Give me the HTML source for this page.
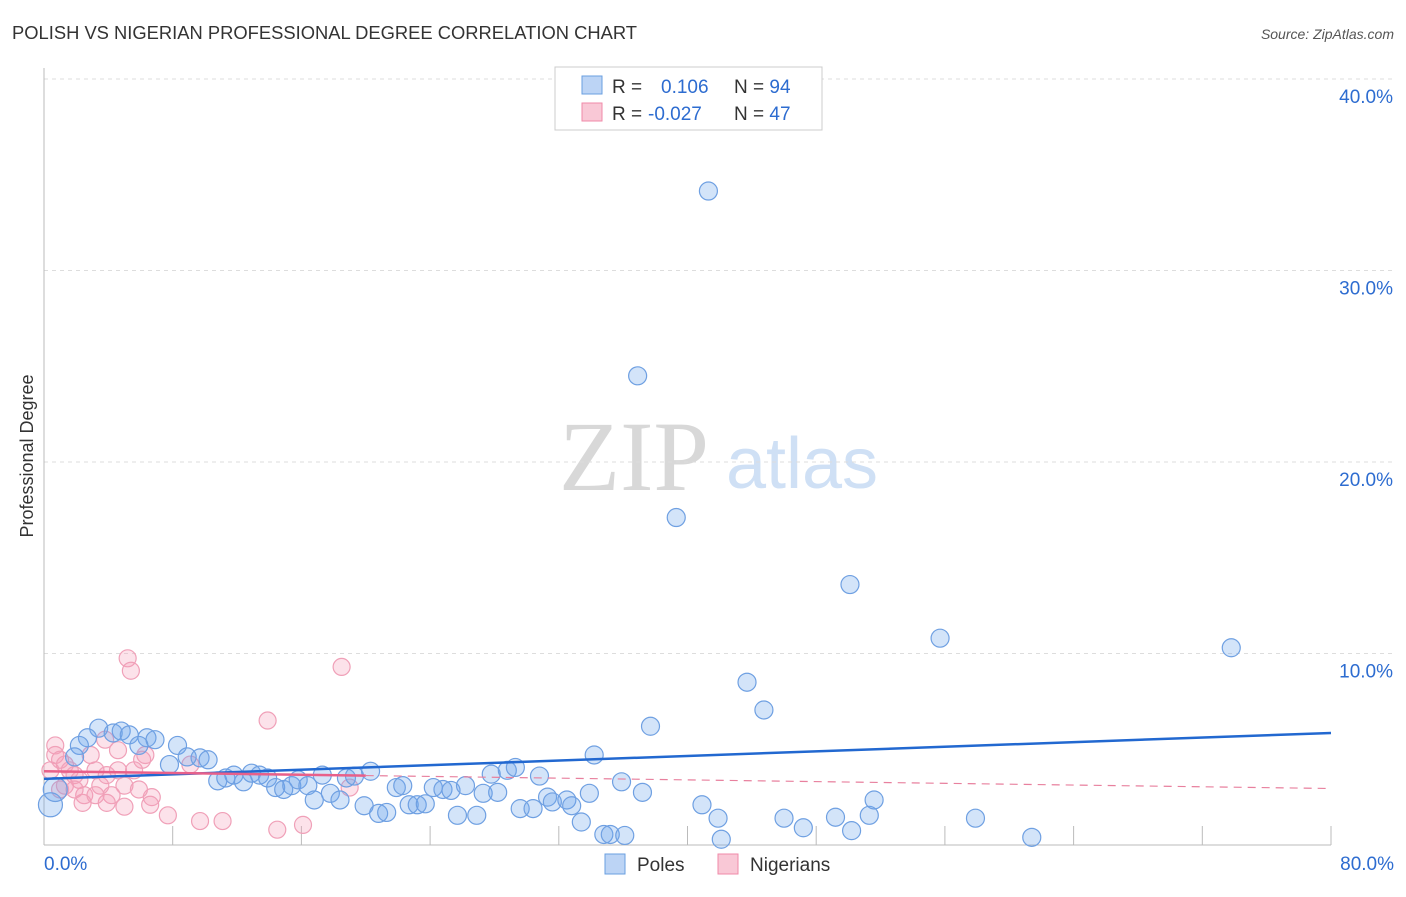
<!DOCTYPE html>
<html><head><meta charset="utf-8"><style>
body{margin:0;background:#fff;font-family:"Liberation Sans",sans-serif;}
svg text{font-family:"Liberation Sans",sans-serif;}
</style></head><body>
<svg id="c" width="1406" height="892">
<text x="12" y="39" font-size="18" fill="#333" textLength="625" lengthAdjust="spacingAndGlyphs">POLISH VS NIGERIAN PROFESSIONAL DEGREE CORRELATION CHART</text>
<text x="1394" y="39" font-size="14" fill="#555" font-style="italic" text-anchor="end">Source: ZipAtlas.com</text>
<text x="33" y="456" font-size="18" fill="#333" transform="rotate(-90 33 456)" text-anchor="middle">Professional Degree</text>
<g>
<text x="634" y="490" font-size="100" fill="#d8d8d8" style="font-family:'Liberation Serif',serif" text-anchor="middle">ZIP</text>
<text x="802" y="488" font-size="72" fill="#cfe0f5" text-anchor="middle">atlas</text>
</g>
<g id="grid"></g><g id="axes"></g><g id="pts"></g><g id="lines"></g>
<g>
<rect x="555" y="67" width="267" height="63" fill="#fff" stroke="#ccc"/>
<rect x="582" y="76" width="20" height="18" fill="#bcd4f5" stroke="#6a9fe0"/>
<rect x="582" y="103" width="20" height="18" fill="#f9c8d6" stroke="#f08aa8"/>
<text x="612" y="93" font-size="19" fill="#333">R = <tspan x="661" fill="#2d6cd0">0.106</tspan><tspan x="734" fill="#333">N = </tspan><tspan fill="#2d6cd0">94</tspan></text>
<text x="612" y="120" font-size="19" fill="#333">R = <tspan x="648" fill="#2d6cd0">-0.027</tspan><tspan x="734" fill="#333">N = </tspan><tspan fill="#2d6cd0">47</tspan></text>
</g>
<g>
<rect x="605" y="854" width="20" height="20" fill="#bcd4f5" stroke="#6a9fe0"/>
<text x="637" y="871" font-size="19" fill="#333">Poles</text>
<rect x="718" y="854" width="20" height="20" fill="#f9c8d6" stroke="#f08aa8"/>
<text x="750" y="871" font-size="19" fill="#333">Nigerians</text>
</g>
</svg>
<script>
const yTicks=[10,20,30,40];
const yTickLabels=["10.0%","20.0%","30.0%","40.0%"];
const xTicks=[0,8,16,24,32,40,48,56,64,72,80];
const xEndLabels=["0.0%","80.0%"];
const polesX=[41.3,36.9,39.3,50.1,55.7,73.8,43.7,44.75,37.7,34.2,3.4,2.7,2.2,4.3,4.8,5.3,6.4,6.9,5.9,8.3,7.8,8.9,9.7,10.2,1.9,0.4,0.7,10.8,11.3,11.8,12.4,12.9,13.4,13.9,14.4,14.9,15.4,15.8,16.4,16.8,17.3,17.8,18.4,18.8,19.3,20.3,19.9,20.8,21.3,21.9,22.3,22.7,23.2,23.7,24.2,24.8,25.3,25.7,26.2,26.9,27.3,27.8,28.2,28.8,29.3,29.6,30.4,30.8,31.3,31.6,32.5,32.8,33.4,33.9,34.8,35.2,35.9,36.1,37.2,40.9,41.9,42.1,46,47.2,49.2,50.2,51.3,51.6,57.9,61.4];
const polesY=[34.15,24.5,17.1,13.6,10.8,10.3,8.5,7.05,6.2,4.7,6.1,5.6,5.2,5.85,5.95,5.75,5.6,5.5,5.2,5.2,4.2,4.6,4.55,4.45,4.6,2.1,2.9,3.35,3.5,3.65,3.3,3.75,3.65,3.5,3.0,2.9,3.1,3.4,3.1,2.35,3.65,2.7,2.35,3.5,3.6,3.85,2.05,1.65,1.7,3.0,3.1,2.1,2.1,2.15,3.0,2.9,2.85,1.55,3.1,1.55,2.7,3.7,2.75,3.9,4.05,1.9,1.9,3.6,2.5,2.25,2.35,2.05,1.2,2.7,0.55,0.55,3.3,0.5,2.75,2.1,1.4,0.3,1.4,0.9,1.45,0.75,1.55,2.35,1.4,0.4];
const nigX=[5.2,5.4,18.5,13.9,0.7,0.7,1.0,1.3,1.6,1.9,1.3,2.2,2.9,3.2,3.5,3.9,4.2,4.6,4.6,5.0,5.6,6.1,6.3,3.8,2.5,2.4,3.9,5.0,6.7,6.6,7.7,9.7,11.1,14.5,16.1,9.1,19.0,1.0,0.4,1.9,5.9,3.2];
const nigY=[9.75,9.1,9.3,6.5,5.2,4.7,4.45,4.2,3.9,3.65,3.1,3.4,4.7,3.9,3.1,3.65,2.6,4.95,3.9,3.1,3.9,4.45,4.7,5.5,2.6,2.2,2.2,2.0,2.5,2.1,1.55,1.25,1.25,0.8,1.05,4.2,3.0,2.9,3.9,2.9,2.9,2.6];
const polesTrend=[3.45,5.85];
const nigTrend=[3.85,2.95];
const NS="http://www.w3.org/2000/svg";
const X=v=>44+v*(1331-44)/80;
const Y=v=>845-v*19.15;
function mk(tag,attrs,parent){const e=document.createElementNS(NS,tag);for(const k in attrs)e.setAttribute(k,attrs[k]);document.getElementById(parent).appendChild(e);return e;}
yTicks.forEach((t,i)=>{
 const g=mk('line',{x1:44,x2:1394,y1:Y(t),y2:Y(t),stroke:'#ddd','stroke-dasharray':'4,4'},'grid');
 
 
 const l=mk('text',{x:1393,y:Y(t)+24,'font-size':19,fill:'#2d6cd0','text-anchor':'end'},'axes');
 l.textContent=yTickLabels[i];
 
 
});
const ya=mk('line',{x1:44,x2:44,y1:68,y2:845,stroke:'#bbb'},'axes');


const xa=mk('line',{x1:44,x2:1331,y1:845,y2:845,stroke:'#bbb'},'axes');


xTicks.forEach(t=>{
 const tk=mk('line',{x1:X(t),x2:X(t),y1:826,y2:845,stroke:'#bbb'},'axes');
 
 
});
[[0,'start',44],[80,'end',1394]].forEach((d,i)=>{
 const l=mk('text',{x:d[2],y:870,'font-size':19,fill:'#2d6cd0','text-anchor':d[1]},'axes');
 l.textContent=xEndLabels[i];
 
 
});
nigX.forEach((v,i)=>{
 const c=mk('circle',{cx:X(v),cy:Y(nigY[i]),r:8.5,fill:'rgba(245,160,185,0.3)',stroke:'#f0a0b8','stroke-width':1.2},'pts');
 
 
});
polesX.forEach((v,i)=>{
 const c=mk('circle',{cx:X(v),cy:Y(polesY[i]),r:(v<1?12:9),fill:'rgba(110,165,235,0.3)',stroke:'#6fa0e2','stroke-width':1.2},'pts');
 
 
});
const bt=mk('line',{x1:X(0),y1:Y(polesTrend[0]),x2:X(80),y2:Y(polesTrend[1]),stroke:'#2268d0','stroke-width':2.5},'lines');


const s=nigTrend[0]+(nigTrend[1]-nigTrend[0])*20/80;
const pt=mk('line',{x1:X(0),y1:Y(nigTrend[0]),x2:X(20),y2:Y(s),stroke:'#e8608a','stroke-width':2.5},'lines');


const pd=mk('line',{x1:X(20),y1:Y(s),x2:X(80),y2:Y(nigTrend[1]),stroke:'#e8809e','stroke-width':1.2,'stroke-dasharray':'8,6'},'lines');


</script>
</body></html>
